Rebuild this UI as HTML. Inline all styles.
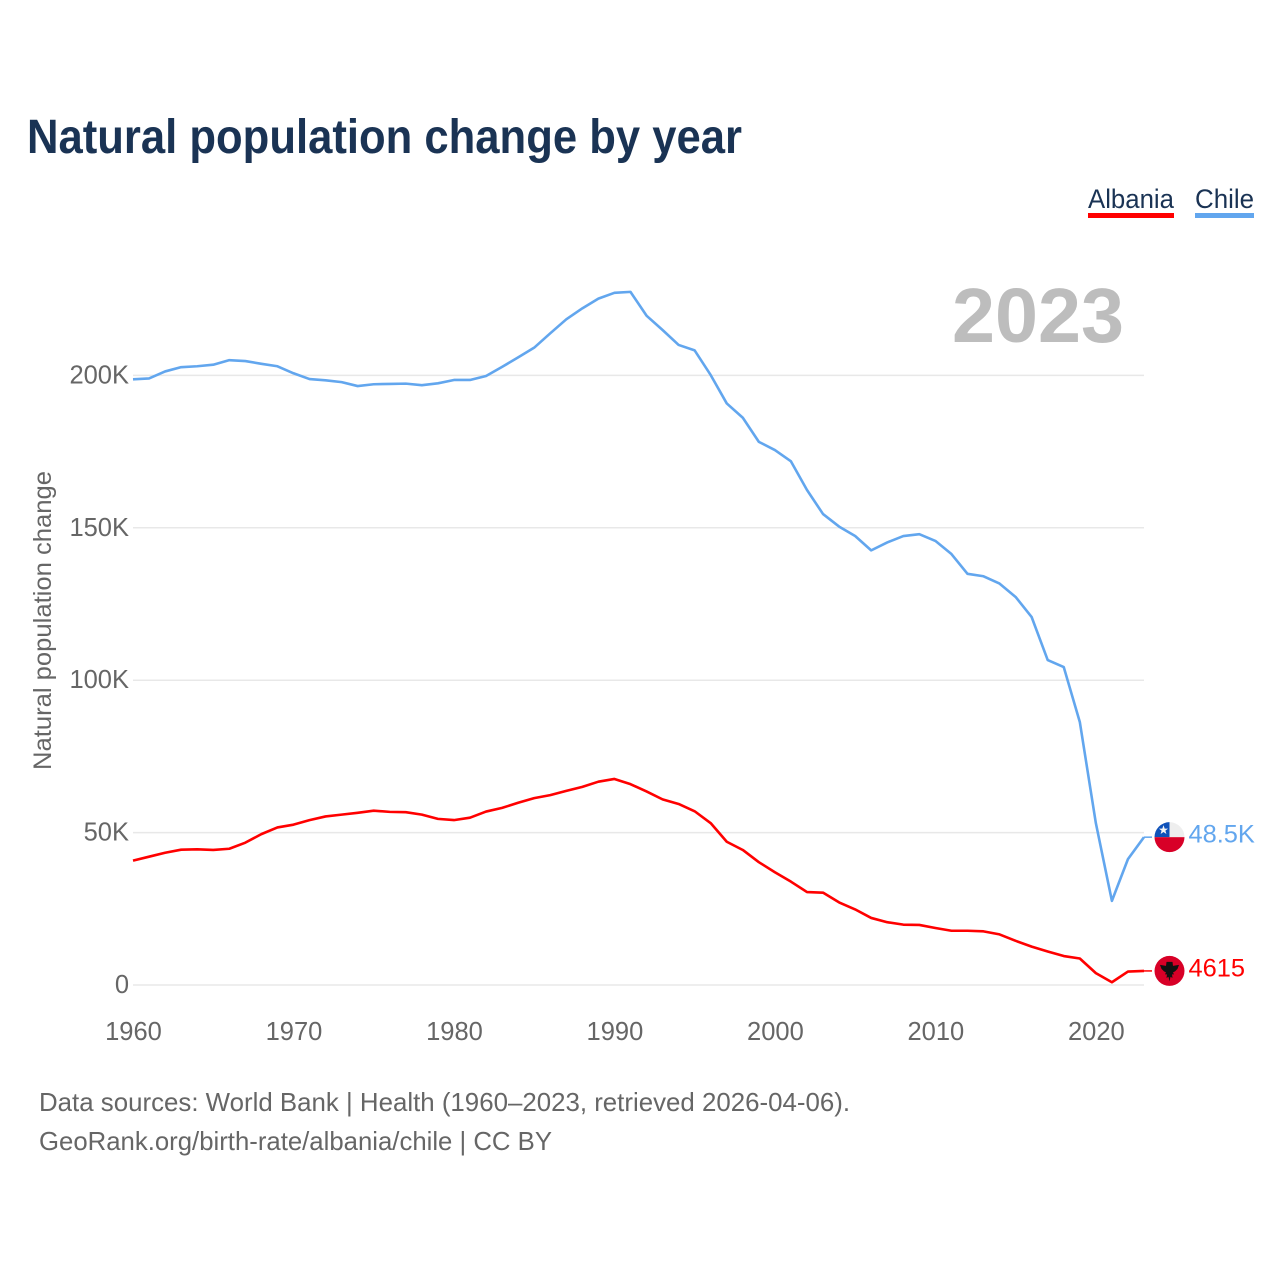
<!DOCTYPE html>
<html lang="en">
<head>
<meta charset="utf-8">
<title>Natural population change by year</title>
<style>
html,body{margin:0;padding:0;background:#fff;}
svg{display:block;font-family:"Liberation Sans",sans-serif;}
</style>
</head>
<body>
<svg id="chart" xmlns="http://www.w3.org/2000/svg" width="1280" height="1280" viewBox="0 0 1280 1280">
  <defs>
    <clipPath id="flag-clip"><circle cx="0" cy="0" r="15"></circle></clipPath>
  </defs>
  <rect x="0" y="0" width="1280" height="1280" fill="#ffffff"></rect>
  <text x="27" y="153" font-size="48" font-weight="700" fill="#1a3354" textLength="715" lengthAdjust="spacingAndGlyphs">Natural population change by year</text>

  <g>
    <g>
      <text x="1088" y="208" font-size="27" fill="#1a3354" textLength="86" lengthAdjust="spacingAndGlyphs">Albania</text>
      <rect x="1088" y="213" width="86" height="5" fill="#ff0000"></rect>
    </g>
    <g>
      <text x="1195" y="208" font-size="27" fill="#1a3354" textLength="59" lengthAdjust="spacingAndGlyphs">Chile</text>
      <rect x="1195" y="213" width="59" height="5" fill="#62a6ee"></rect>
    </g>
  </g>

  <text x="952" y="342" font-size="77" font-weight="700" fill="#bdbdbd" textLength="172" lengthAdjust="spacingAndGlyphs">2023</text>

  <g id="grid"></g>
  <g id="y-axis"></g>
  <g id="x-axis"></g>

  <text transform="translate(51 770) rotate(-90)" x="0" y="0" font-size="25" fill="#666666" textLength="299" lengthAdjust="spacingAndGlyphs">Natural population change</text>

  <g id="series"></g>

  <g id="flag-chile">
    <g clip-path="url(#flag-clip)">
      <rect x="-15" y="-16" width="30" height="16" fill="#eeeeee"></rect>
      <rect x="-15" y="-16" width="15" height="16" fill="#0f52ba"></rect>
      <rect x="-15" y="0" width="30" height="16" fill="#d80027"></rect>
      <polygon points="-6,-12 -4.8,-8.6 -1.4,-8.6 -4.1,-6.5 -3.1,-3.2 -6,-5.2 -8.9,-3.2 -7.9,-6.5 -10.6,-8.6 -7.2,-8.6" fill="#f5f5f5"></polygon>
    </g>
  </g>
  <g id="flag-albania">
    <g clip-path="url(#flag-clip)">
      <rect x="-15" y="-16" width="30" height="32" fill="#d80027"></rect>
      <polygon points="-3,-9 3,-9 3.5,-5 9.5,-6 8,-2 5.5,0.5 3.5,1.5 4.5,3.5 2.5,3.5 3,7 1,6 0,10.5 -1,6 -3,7 -2.5,3.5 -4.5,3.5 -3.5,1.5 -5.5,0.5 -8,-2 -9.5,-6 -3.5,-5" fill="#111111"></polygon>
    </g>
  </g>

  <text x="39" y="1111" font-size="26" fill="#666666" textLength="811" lengthAdjust="spacingAndGlyphs">Data sources: World Bank | Health (1960–2023, retrieved 2026-04-06).</text>
  <text x="39" y="1150" font-size="26" fill="#666666" textLength="513" lengthAdjust="spacingAndGlyphs">GeoRank.org/birth-rate/albania/chile | CC BY</text>
</svg>
<script>
const firstYear = 1960;
const lastYear = 2023;
const xTickYears = [1960, 1970, 1980, 1990, 2000, 2010, 2020];
const yTickValues = [0, 50, 100, 150, 200];
const yTickLabels = ['0', '50K', '100K', '150K', '200K'];
// Natural population change, in thousands, 1960-2023
const chileValues = [
  198.7,199.0,201.3,202.7,203.0,203.5,205.0,204.7,203.8,203.0,
  200.7,198.8,198.4,197.8,196.5,197.1,197.2,197.3,196.8,197.4,
  198.5,198.5,199.8,202.8,205.9,209.1,213.8,218.4,222.0,225.2,
  227.1,227.4,219.6,214.9,210.0,208.2,200.1,190.8,186.1,178.2,
  175.5,171.8,162.4,154.5,150.4,147.3,142.6,145.2,147.3,147.9,
  145.7,141.4,134.9,134.1,131.7,127.3,120.7,106.6,104.3,86.3,
  53.1,27.6,41.3,48.5
];
const albaniaValues = [
  40.8,42.1,43.4,44.4,44.5,44.3,44.7,46.7,49.5,51.7,
  52.6,54.1,55.3,55.9,56.5,57.2,56.8,56.7,55.9,54.5,
  54.1,54.9,56.9,58.1,59.8,61.3,62.3,63.7,65.0,66.7,
  67.6,65.9,63.5,60.9,59.4,57.0,53.1,47.0,44.3,40.3,
  37.0,33.9,30.5,30.3,27.1,24.8,22.0,20.6,19.8,19.7,
  18.7,17.8,17.8,17.6,16.6,14.5,12.6,11.0,9.5,8.7,
  3.9,0.9,4.4,4.615
];

const NS = 'http://www.w3.org/2000/svg';
const plotLeft = 133, plotRight = 1144, plotBottom = 985, plotTop50 = 832.6;
function xScale(year) {
  return plotLeft + (year - firstYear) * (plotRight - plotLeft) / (lastYear - firstYear);
}
function yScale(v) {
  return plotBottom - v * (plotBottom - plotTop50) / 50;
}
function formatValue(v) {
  return v >= 10 ? v.toFixed(1) + 'K' : String(Math.round(v * 1000));
}
function make(tag, attrs, parent, text) {
  const el = document.createElementNS(NS, tag);
  for (const k in attrs) el.setAttribute(k, attrs[k]);
  if (text !== undefined) el.textContent = text;
  parent.appendChild(el);
  return el;
}

const grid = document.getElementById('grid');
const yAxis = document.getElementById('y-axis');
const xAxis = document.getElementById('x-axis');
const series = document.getElementById('series');
const svgRoot = document.getElementById('chart');

yTickValues.forEach(function (v, i) {
  const line = make('line', {x1: plotLeft, x2: plotRight, y1: yScale(v), y2: yScale(v), stroke: '#e8e8e8', 'stroke-width': 1.5}, grid);
  
  
  const label = make('text', {x: 129, y: yScale(v) + 8, 'text-anchor': 'end', 'font-size': 25.5, fill: '#666666'}, yAxis, yTickLabels[i]);
  
  
});

xTickYears.forEach(function (yr) {
  const label = make('text', {x: xScale(yr) + 0.5, y: 1040, 'text-anchor': 'middle', 'font-size': 25.5, fill: '#666666'}, xAxis, String(yr));
  
  
});

function drawSeries(values, color, key, flagId) {
  const pts = values.map(function (v, i) {
    return xScale(firstYear + i).toFixed(2) + ',' + yScale(v).toFixed(2);
  }).join(' ');
  const line = make('polyline', {points: pts, fill: 'none', stroke: color, 'stroke-width': 2.6, 'stroke-linejoin': 'round'}, series);
  
  

  const last = values[values.length - 1];
  const yLast = yScale(last);
  const connector = make('line', {x1: plotRight, x2: plotRight + 8, y1: yLast, y2: yLast, stroke: color, 'stroke-width': 1.5}, series);
  
  

  document.getElementById(flagId).setAttribute('transform', 'translate(1169.5 ' + yLast + ')');

  const label = make('text', {x: 1188.5, y: yLast + 5.5, 'font-size': 25.4, fill: color}, svgRoot, formatValue(last));
  
  
}
drawSeries(chileValues, '#62a6ee', 'chile', 'flag-chile');
drawSeries(albaniaValues, '#ff0000', 'albania', 'flag-albania');
</script>
</body>
</html>
